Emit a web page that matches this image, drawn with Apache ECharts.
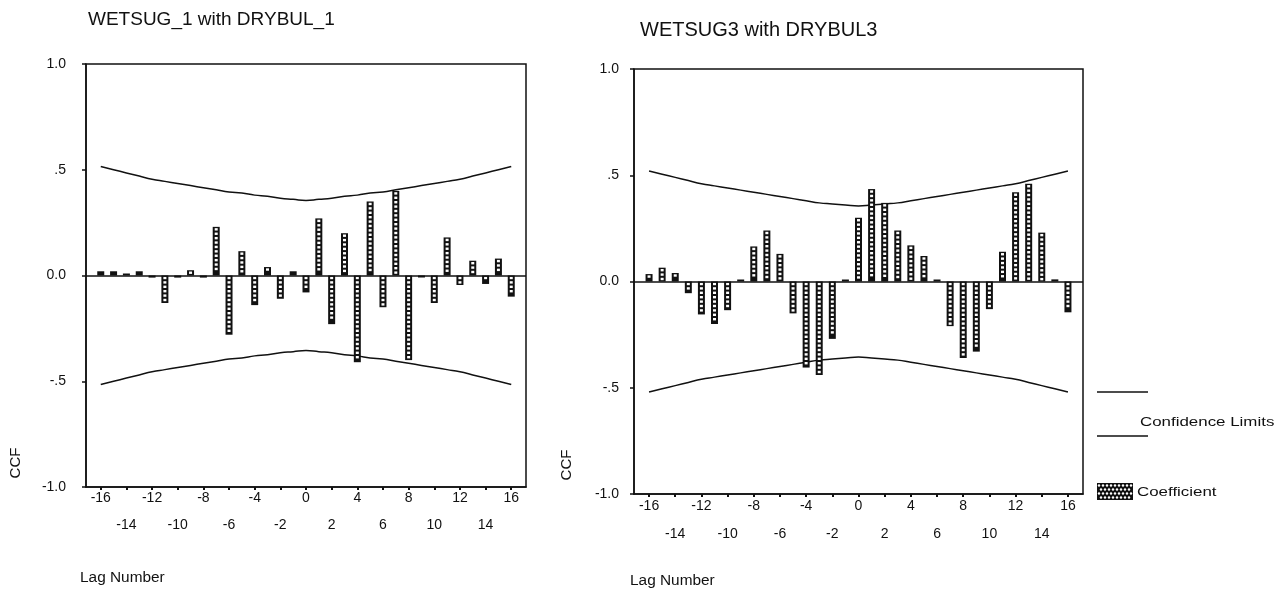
<!DOCTYPE html>
<html>
<head>
<meta charset="utf-8">
<script src="https://cdn.jsdelivr.net/npm/echarts@6/dist/echarts.min.js"></script>
<style>
  html, body { margin: 0; padding: 0; background: #ffffff; }
  #chart { width: 1283px; height: 598px; }
</style>
</head>
<body>
<div id="chart"></div>
<script>
// Lags of the cross-correlation function
const lags = [-16, -15, -14, -13, -12, -11, -10, -9, -8, -7, -6, -5, -4, -3, -2, -1, 0,
              1, 2, 3, 4, 5, 6, 7, 8, 9, 10, 11, 12, 13, 14, 15, 16];
const lagTicks = [-16, -14, -12, -10, -8, -6, -4, -2, 0, 2, 4, 6, 8, 10, 12, 14, 16];
const ccfTickLabels = { '-1': '-1.0', '-0.5': '-.5', '0': '0.0', '0.5': '.5', '1': '1.0' };

// WETSUG_1 with DRYBUL_1
const ccfWetsug1 = [0.02, 0.02, 0.005, 0.02, -0.01, -0.13, -0.01, 0.025, -0.01, 0.23, -0.28, 0.115,
                    -0.14, 0.04, -0.11, 0.02, -0.08, 0.27, -0.23, 0.20, -0.41, 0.35, -0.15, 0.40,
                    -0.40, -0.005, -0.13, 0.18, -0.045, 0.07, -0.04, 0.08, -0.10];
const upperLimit1 = [0.515, 0.50, 0.485, 0.47, 0.455, 0.445, 0.435, 0.425, 0.415, 0.405, 0.395, 0.39,
                     0.38, 0.375, 0.365, 0.36, 0.355, 0.36, 0.365, 0.375, 0.38, 0.39, 0.395, 0.405,
                     0.415, 0.425, 0.435, 0.445, 0.455, 0.47, 0.485, 0.50, 0.515];
const lowerLimit1 = [-0.515, -0.50, -0.485, -0.47, -0.455, -0.445, -0.435, -0.425, -0.415, -0.405, -0.395, -0.39,
                     -0.38, -0.375, -0.365, -0.36, -0.355, -0.36, -0.365, -0.375, -0.38, -0.39, -0.395, -0.405,
                     -0.415, -0.425, -0.435, -0.445, -0.455, -0.47, -0.485, -0.50, -0.515];

// WETSUG3 with DRYBUL3
const ccfWetsug3 = [0.035, 0.065, 0.04, -0.055, -0.155, -0.20, -0.135, 0.005, 0.165, 0.24, 0.13, -0.15,
                    -0.405, -0.44, -0.27, 0.005, 0.30, 0.435, 0.37, 0.24, 0.17, 0.12, 0.005, -0.21,
                    -0.36, -0.33, -0.13, 0.14, 0.42, 0.46, 0.23, 0.01, -0.145];
const upperLimit3 = [0.52, 0.505, 0.49, 0.475, 0.46, 0.45, 0.44, 0.43, 0.42, 0.41, 0.40, 0.39,
                     0.38, 0.37, 0.365, 0.36, 0.355, 0.36, 0.365, 0.37, 0.38, 0.39, 0.40, 0.41,
                     0.42, 0.43, 0.44, 0.45, 0.46, 0.475, 0.49, 0.505, 0.52];
const lowerLimit3 = [-0.52, -0.505, -0.49, -0.475, -0.46, -0.45, -0.44, -0.43, -0.42, -0.41, -0.40, -0.39,
                     -0.38, -0.37, -0.365, -0.36, -0.355, -0.36, -0.365, -0.37, -0.38, -0.39, -0.40, -0.41,
                     -0.42, -0.43, -0.44, -0.45, -0.46, -0.475, -0.49, -0.505, -0.52];

const INK = '#111111';
const FONT = "'Liberation Sans', Arial, sans-serif";

const pairs = (ys) => lags.map((lag, i) => [lag, ys[i]]);

// Hatched coefficient bar: black column with a ladder of white squares
function renderCoefficientBar(params, api) {
  const lag = api.value(0);
  const v = api.value(1);
  const base = api.coord([lag, 0]);
  const tip = api.coord([lag, v]);
  const w = 7;
  const h = Math.max(Math.abs(tip[1] - base[1]), 2);
  const top = v >= 0 ? base[1] - h : base[1];
  const children = [{
    type: 'rect',
    shape: { x: base[0] - w / 2, y: top, width: w, height: h },
    style: { fill: INK }
  }];
  for (let y = top + 1.3; y + 2.4 <= top + h - 1; y += 4.4) {
    children.push({
      type: 'rect',
      shape: { x: base[0] - 1.5, y: y, width: 3, height: 2.4 },
      style: { fill: '#ffffff' }
    });
  }
  return { type: 'group', children: children };
}

// Lag axis: labels alternate between two rows
function xAxisFor(gridIndex, rowGap) {
  return {
    type: 'value', gridIndex: gridIndex, min: -17.15, max: 17.15,
    axisLine: { show: true, onZero: false, lineStyle: { color: INK, width: 1.5 } },
    axisTick: { show: true, customValues: lagTicks, length: 3, lineStyle: { color: INK, width: 2 } },
    axisLabel: {
      customValues: lagTicks, margin: -2, lineHeight: rowGap,
      color: INK, fontFamily: FONT, fontSize: 14,
      formatter: (v) => (((v + 16) / 2) % 2 === 0 ? String(v) : '\n' + v)
    },
    splitLine: { show: false }
  };
}

function yAxisFor(gridIndex, labelMargin) {
  return {
    type: 'value', gridIndex: gridIndex, min: -1, max: 1, interval: 0.5,
    axisLine: { show: true, onZero: false, lineStyle: { color: INK, width: 1.5 } },
    axisTick: { show: true, length: 4, lineStyle: { color: INK, width: 1.5 } },
    axisLabel: {
      margin: labelMargin, color: INK, fontFamily: FONT, fontSize: 14,
      formatter: (v) => ccfTickLabels[String(v)]
    },
    splitLine: { show: false }
  };
}

function limitSeries(idx, ys, withZeroLine) {
  const s = {
    type: 'line', xAxisIndex: idx, yAxisIndex: idx, data: pairs(ys),
    smooth: true, showSymbol: false, silent: true,
    lineStyle: { color: INK, width: 1.5 }, z: 3
  };
  if (withZeroLine) {
    s.markLine = {
      silent: true, symbol: 'none', animation: false,
      label: { show: false },
      lineStyle: { color: INK, width: 1.5, type: 'solid' },
      data: [{ yAxis: 0 }]
    };
  }
  return s;
}

function barSeries(idx, ys) {
  return {
    type: 'custom', xAxisIndex: idx, yAxisIndex: idx, data: pairs(ys),
    renderItem: renderCoefficientBar, encode: { x: 0, y: 1 }, z: 4
  };
}

// Legend swatch: checker of white dots on black
const swatch = [];
swatch.push({ type: 'rect', shape: { x: 1097, y: 483, width: 36, height: 17 }, style: { fill: INK } });
for (let r = 0; r < 4; r++) {
  for (let c = 0; c < 9; c++) {
    const cx = 1099 + c * 4 + (r % 2) * 2;
    const cy = 485.5 + r * 4;
    if (cx < 1132) {
      swatch.push({ type: 'circle', shape: { cx: cx, cy: cy, r: 1.2 }, style: { fill: '#ffffff' } });
    }
  }
}

function label(text, x, y, size, extra) {
  return Object.assign({
    type: 'text', x: x, y: y,
    style: { text: text, fontFamily: FONT, fontSize: size, fill: INK, align: 'left', verticalAlign: 'middle' }
  }, extra || {});
}

function verticalLabel(text, x, y, size) {
  return {
    type: 'text', x: x, y: y, rotation: Math.PI / 2,
    style: { text: text, fontFamily: FONT, fontSize: size, fill: INK, align: 'center', verticalAlign: 'middle' }
  };
}

const chart = echarts.init(document.getElementById('chart'), null, { renderer: 'canvas' });
chart.setOption({
  animation: false,
  backgroundColor: '#ffffff',
  title: [
    { text: 'WETSUG_1 with DRYBUL_1', left: 83, top: 5,
      textStyle: { fontFamily: FONT, fontSize: 19, fontWeight: 'normal', color: INK } },
    { text: 'WETSUG3 with DRYBUL3', left: 635, top: 15,
      textStyle: { fontFamily: FONT, fontSize: 20, fontWeight: 'normal', color: INK } }
  ],
  grid: [
    { left: 86, top: 64, width: 440, height: 423, show: true, borderColor: INK, borderWidth: 1.5 },
    { left: 634, top: 69, width: 449, height: 425, show: true, borderColor: INK, borderWidth: 1.5 }
  ],
  xAxis: [xAxisFor(0, 27), xAxisFor(1, 28)],
  yAxis: [yAxisFor(0, 20), yAxisFor(1, 15)],
  series: [
    limitSeries(0, upperLimit1, true),
    limitSeries(0, lowerLimit1, false),
    barSeries(0, ccfWetsug1),
    limitSeries(1, upperLimit3, true),
    limitSeries(1, lowerLimit3, false),
    barSeries(1, ccfWetsug3)
  ],
  graphic: [
    verticalLabel('CCF', 16, 463, 15),
    verticalLabel('CCF', 567, 465, 15),
    label('Lag Number', 80, 578, 14, { scaleX: 1.1 }),
    label('Lag Number', 630, 581, 14, { scaleX: 1.1 }),
    { type: 'line', shape: { x1: 1097, y1: 392, x2: 1148, y2: 392 }, style: { stroke: INK, lineWidth: 1.5 } },
    { type: 'line', shape: { x1: 1097, y1: 436, x2: 1148, y2: 436 }, style: { stroke: INK, lineWidth: 1.5 } },
    label('Confidence Limits', 1140, 422, 13, { scaleX: 1.3 }),
    { type: 'group', children: swatch },
    label('Coefficient', 1137, 492, 13, { scaleX: 1.3 })
  ]
});
</script>
</body>
</html>
